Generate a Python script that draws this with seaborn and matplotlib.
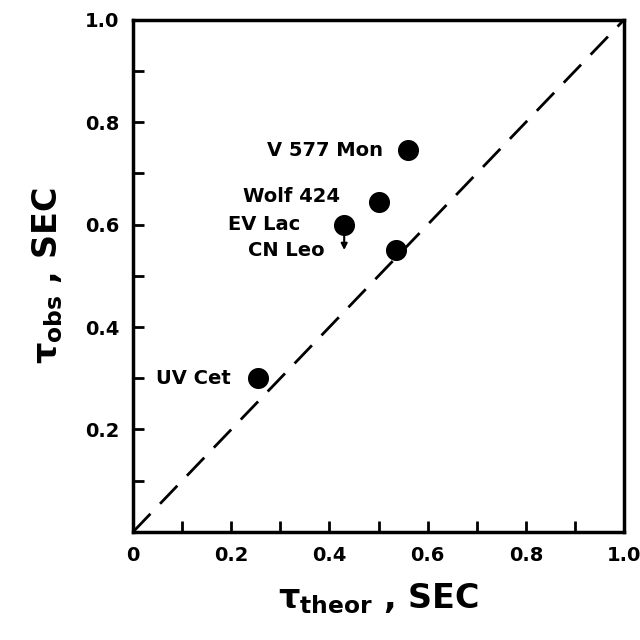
import matplotlib
matplotlib.use("Agg")
import matplotlib.pyplot as plt
import seaborn as sns
import pandas as pd
from matplotlib.ticker import MultipleLocator, FixedLocator, FixedFormatter

stars = ["UV Cet", "EV Lac", "CN Leo", "Wolf 424", "V 577 Mon"]
tau_theor = [0.255, 0.43, 0.535, 0.50, 0.56]
tau_obs = [0.30, 0.60, 0.55, 0.645, 0.745]
label_offsets = {"UV Cet": (-20, 0), "EV Lac": (-32, 0), "CN Leo": (-51, 0),
                 "Wolf 424": (-28, 4), "V 577 Mon": (-18, 0)}
upper_limits = ["EV Lac"]
diag = [0.0, 1.0]

xticks = [0, 0.2, 0.4, 0.6, 0.8, 1.0]
xticklabels = ["0", "0.2", "0.4", "0.6", "0.8", "1.0"]
yticks = [0.2, 0.4, 0.6, 0.8, 1.0]
yticklabels = ["0.2", "0.4", "0.6", "0.8", "1.0"]

sns.set_style("ticks")
plt.rcParams["font.family"] = ["DejaVu Sans"]
plt.rcParams["mathtext.default"] = "bf"
plt.rcParams["text.color"] = "black"
plt.rcParams["axes.labelcolor"] = "black"
plt.rcParams["xtick.color"] = "black"
plt.rcParams["ytick.color"] = "black"

df = pd.DataFrame({"star": stars, "x": tau_theor, "y": tau_obs})

fig = plt.figure(figsize=(6.4, 6.4), dpi=100)
ax = fig.add_axes([0.208, 0.169, 0.767, 0.800])

sns.lineplot(x=diag, y=diag, ax=ax, color="black", lw=2.0,
             linestyle=(0, (9, 5)))
sns.scatterplot(data=df, x="x", y="y", ax=ax, color="black", s=230,
                edgecolor="black", linewidth=0, zorder=5)

for s, x, y in zip(stars, tau_theor, tau_obs):
    dx, dy = label_offsets[s]
    ax.annotate(s, (x, y), xytext=(dx, dy), textcoords="offset points",
                ha="right", va="center", fontsize=14, fontweight="bold",
                color="black")

for s in upper_limits:
    i = stars.index(s)
    ax.annotate("", xy=(tau_theor[i], tau_obs[i] - 0.055),
                xytext=(tau_theor[i], tau_obs[i] - 0.01),
                arrowprops=dict(arrowstyle="-|>", color="black", lw=1.5,
                                mutation_scale=9))

ax.set_xlim(0, 1)
ax.set_ylim(0, 1)
ax.xaxis.set_major_locator(FixedLocator(xticks))
ax.xaxis.set_major_formatter(FixedFormatter(xticklabels))
ax.yaxis.set_major_locator(FixedLocator(yticks))
ax.yaxis.set_major_formatter(FixedFormatter(yticklabels))
ax.xaxis.set_minor_locator(MultipleLocator(0.1))
ax.yaxis.set_minor_locator(MultipleLocator(0.1))
ax.tick_params(which="both", direction="in", length=8, width=2,
               bottom=True, left=True, top=False, right=False,
               labelsize=14, pad=10, colors="black")
for lab in ax.get_xticklabels() + ax.get_yticklabels():
    lab.set_fontweight("bold")
for sp in ax.spines.values():
    sp.set_visible(True)
    sp.set_linewidth(2.5)
    sp.set_color("black")

ax.set_xlabel(r"$\tau_{theor}$ , SEC", fontsize=24, fontweight="bold", labelpad=12)
ax.set_ylabel(r"$\tau_{obs}$ , SEC", fontsize=24, fontweight="bold", labelpad=14)

fig.savefig("out.png", dpi=100)
